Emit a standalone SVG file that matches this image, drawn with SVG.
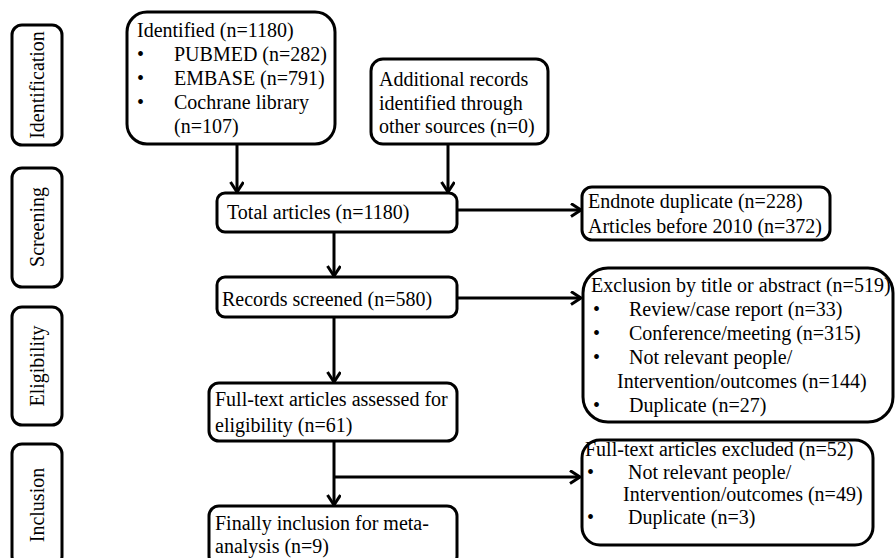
<svg xmlns="http://www.w3.org/2000/svg" width="895" height="558" viewBox="0 0 895 558">
<defs>
<style>
.box{fill:#fff;stroke:#000;stroke-width:3}
.t{font-family:"Liberation Serif","Times New Roman",serif;font-size:20px;fill:#000}
.lbl{font-family:"Liberation Serif","Times New Roman",serif;font-size:20px;fill:#000;text-anchor:middle}
.c{fill:none;stroke:#000;stroke-width:3}
</style>
<marker id="ah" markerUnits="userSpaceOnUse" markerWidth="14" markerHeight="16" refX="11" refY="7" orient="auto" viewBox="0 0 14 16">
<path d="M1,0.5 L11,7 L1,13.5" fill="none" stroke="#000" stroke-width="3"/>
</marker>
</defs>
<rect width="895" height="558" fill="#fff"/>

<g id="stage-identification">
<rect class="box" x="12" y="25" width="50" height="120" rx="10"/>
<text class="lbl" transform="translate(44,85) rotate(-90)">Identification</text>
</g>
<g id="stage-screening">
<rect class="box" x="12" y="168" width="50" height="119" rx="10"/>
<text class="lbl" transform="translate(44,227) rotate(-90)">Screening</text>
</g>
<g id="stage-eligibility">
<rect class="box" x="12" y="307" width="50" height="118" rx="10"/>
<text class="lbl" transform="translate(44,366) rotate(-90)">Eligibility</text>
</g>
<g id="stage-inclusion">
<rect class="box" x="12" y="444" width="50" height="122" rx="10"/>
<text class="lbl" transform="translate(44,505) rotate(-90)">Inclusion</text>
</g>

<g id="connectors">
<line class="c" x1="237" y1="144" x2="237" y2="192" marker-end="url(#ah)"/>
<line class="c" x1="448" y1="144" x2="448" y2="192" marker-end="url(#ah)"/>
<line class="c" x1="457" y1="210" x2="581" y2="210" marker-end="url(#ah)"/>
<line class="c" x1="334" y1="232" x2="334" y2="276" marker-end="url(#ah)"/>
<line class="c" x1="457" y1="298" x2="581" y2="298" marker-end="url(#ah)"/>
<line class="c" x1="334" y1="317" x2="334" y2="382" marker-end="url(#ah)"/>
<line class="c" x1="334" y1="441" x2="334" y2="505" marker-end="url(#ah)"/>
<line class="c" x1="334" y1="477" x2="580" y2="477" marker-end="url(#ah)"/>
</g>

<g id="identified">
<rect class="box" x="127" y="12" width="208" height="132" rx="20"/>
<text class="t" x="137" y="37">Identified (n=1180)</text>
<text class="t" x="137" y="61">•</text><text class="t" x="174" y="61">PUBMED (n=282)</text>
<text class="t" x="137" y="85">•</text><text class="t" x="174" y="85">EMBASE (n=791)</text>
<text class="t" x="137" y="109">•</text><text class="t" x="174" y="109">Cochrane library</text>
<text class="t" x="174" y="133">(n=107)</text>
</g>

<g id="additional">
<rect class="box" x="371" y="59" width="177" height="85" rx="12"/>
<text class="t" x="379" y="86">Additional records</text>
<text class="t" x="379" y="110">identified through</text>
<text class="t" x="379" y="133">other sources (n=0)</text>
</g>

<g id="total">
<rect class="box" x="217" y="193" width="240" height="39" rx="8"/>
<text class="t" x="227" y="219">Total articles (n=1180)</text>
</g>

<g id="endnote">
<rect class="box" x="582" y="187" width="248" height="53" rx="10"/>
<text class="t" x="588" y="208">Endnote duplicate (n=228)</text>
<text class="t" x="588" y="233">Articles before 2010 (n=372)</text>
</g>

<g id="records">
<rect class="box" x="217" y="277" width="240" height="40" rx="8"/>
<text class="t" x="222" y="306">Records screened (n=580)</text>
</g>

<g id="exclusion">
<rect class="box" x="583" y="268" width="310" height="154" rx="25"/>
<text class="t" x="591" y="292">Exclusion by title or abstract (n=519)</text>
<text class="t" x="593" y="316">•</text><text class="t" x="629" y="316">Review/case report (n=33)</text>
<text class="t" x="593" y="340">•</text><text class="t" x="629" y="340">Conference/meeting (n=315)</text>
<text class="t" x="593" y="364">•</text><text class="t" x="629" y="364">Not relevant people/</text>
<text class="t" x="617" y="388">Intervention/outcomes (n=144)</text>
<text class="t" x="593" y="412">•</text><text class="t" x="629" y="412">Duplicate (n=27)</text>
</g>

<g id="fulltext">
<rect class="box" x="209" y="383" width="248" height="58" rx="10"/>
<text class="t" x="215" y="406">Full-text articles assessed for</text>
<text class="t" x="215" y="432">eligibility (n=61)</text>
</g>

<g id="fulltext-excluded">
<rect class="box" x="582" y="440" width="291" height="105" rx="18"/>
<text class="t" x="585" y="456">Full-text articles excluded (n=52)</text>
<text class="t" x="587" y="479">•</text><text class="t" x="628" y="479">Not relevant people/</text>
<text class="t" x="623" y="501">Intervention/outcomes (n=49)</text>
<text class="t" x="587" y="524">•</text><text class="t" x="628" y="524">Duplicate (n=3)</text>
</g>

<g id="final">
<rect class="box" x="209" y="506" width="248" height="60" rx="10"/>
<text class="t" x="215" y="530">Finally inclusion for meta-</text>
<text class="t" x="215" y="553">analysis (n=9)</text>
</g>
</svg>
